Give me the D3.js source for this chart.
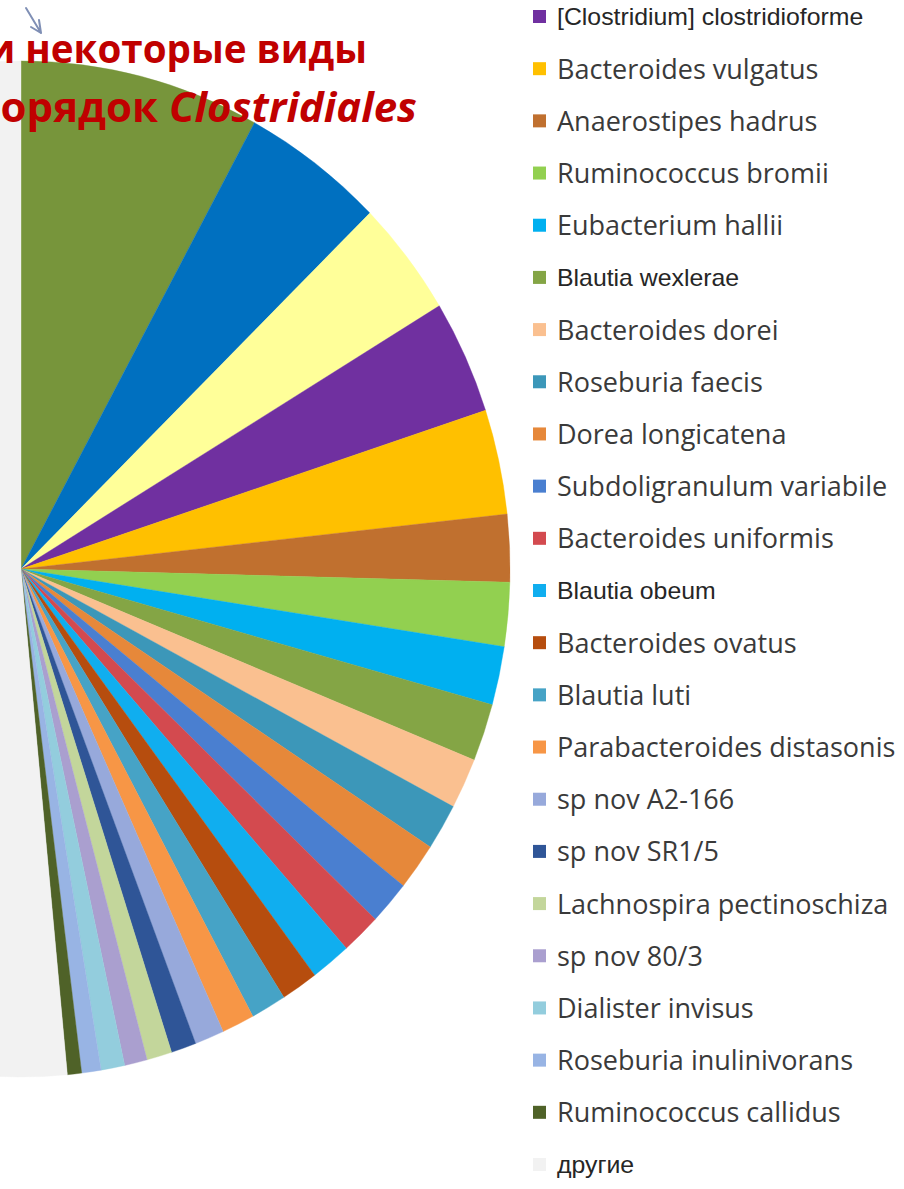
<!DOCTYPE html>
<html>
<head>
<meta charset="utf-8">
<script src="https://cdn.jsdelivr.net/npm/d3@7"></script>
<style>
  html, body { margin: 0; padding: 0; background: #ffffff; }
  svg { display: block; }
</style>
</head>
<body>
<svg id="chart" width="904" height="1189"></svg>
<script>
// ---- data (angles clockwise from 12 o'clock) ----
const categories = [
  "скрыто 1", "скрыто 2", "скрыто 3",
  "[Clostridium] clostridioforme", "Bacteroides vulgatus", "Anaerostipes hadrus",
  "Ruminococcus bromii", "Eubacterium hallii", "Blautia wexlerae",
  "Bacteroides dorei", "Roseburia faecis", "Dorea longicatena",
  "Subdoligranulum variabile", "Bacteroides uniformis", "Blautia obeum",
  "Bacteroides ovatus", "Blautia luti", "Parabacteroides distasonis",
  "sp nov A2-166", "sp nov SR1/5", "Lachnospira pectinoschiza",
  "sp nov 80/3", "Dialister invisus", "Roseburia inulinivorans",
  "Ruminococcus callidus", "другие"
];
const values = [
  7.92, 4.72, 3.69,
  3.61, 3.33, 2.14,
  2.03, 1.86, 1.83,
  1.61, 1.47, 1.50,
  1.39, 1.31, 1.33,
  1.22, 1.17, 1.08,
  0.97, 0.83, 0.83,
  0.75, 0.78, 0.64,
  0.47, 51.50
];
const colors = [
  "#77953b", "#0070c0", "#ffff99",
  "#7030a0", "#ffc000", "#c0702f",
  "#92d050", "#00b0f0", "#84a545",
  "#fac090", "#3c97b9", "#e6883a",
  "#4a7fd0", "#d34a4f", "#10aeef",
  "#b64d0e", "#46a3c6", "#f79646",
  "#97a9db", "#2f5597", "#c3d69b",
  "#aa9fcf", "#93cddd", "#98b4e4",
  "#4f6228", "#f2f2f2"
];
const titleLine1 = "и некоторые виды";
const titleLine2a = "порядок ";
const titleLine2b = "Clostridiales";

// ---- drawing ----
const svg = d3.select("#chart");

const cx = 21, cy = 569, ry = 508, rx = 489;

const pie = d3.pie().sort(null).value(d => d.v).startAngle(0).endAngle(2 * Math.PI);
const data = categories.map((c, i) => ({ name: c, v: values[i], color: colors[i] }));
const arcs = pie(data);
const arc = d3.arc().innerRadius(0).outerRadius(ry);

const g = svg.append("g")
  .attr("transform", `translate(${cx},${cy}) scale(${rx / ry},1)`);
g.selectAll("path.slice")
  .data(arcs)
  .join("path")
  .attr("class", "slice")
  .attr("d", arc)
  .attr("fill", d => d.data.color)
  .attr("stroke", d => d.data.color)
  .attr("stroke-width", 0.4);

// ---- legend ----
const narrowLabels = new Set(["[Clostridium] clostridioforme", "Blautia wexlerae", "Blautia obeum", "другие"]);
const legY = d3.scaleLinear().domain([3, 25]).range([17, 1165]);
const legendData = data.map((d, i) => ({ ...d, i })).filter(d => legY(d.i) > 0);
const leg = svg.append("g");
const items = leg.selectAll("g.item")
  .data(legendData)
  .join("g")
  .attr("class", "item")
  .attr("transform", d => `translate(0,${legY(d.i)})`);
items.append("rect")
  .attr("x", 533).attr("y", -7)
  .attr("width", 13).attr("height", 13)
  .attr("fill", d => d.color);
items.append("text")
  .attr("transform", d => narrowLabels.has(d.name) ? "translate(557,0) scale(1.08,1)" : "translate(557,0)")
  .attr("x", 0)
  .attr("y", 0)
  .attr("dy", "0.35em")
  .attr("font-family", d => narrowLabels.has(d.name) ? "'Liberation Sans', Arial, sans-serif" : "'Open Sans', 'Noto Sans', sans-serif")
  .attr("font-size", d => narrowLabels.has(d.name) ? 23 : 27)
  .attr("fill", d => narrowLabels.has(d.name) ? "#262626" : "#3a3a3a")
  .text(d => d.name);

// ---- title fragment (cropped at the left edge, as in the source slide) ----
const title = svg.append("g")
  .attr("font-family", "'Open Sans', 'Noto Sans', sans-serif")
  .attr("font-weight", "bold")
  .attr("fill", "#c00000");
title.append("text")
  .attr("x", 367).attr("y", 63)
  .attr("font-size", 38.6)
  .attr("text-anchor", "end")
  .text(titleLine1);
const t2 = title.append("text")
  .attr("x", 417).attr("y", 122)
  .attr("font-size", 42)
  .attr("text-anchor", "end");
t2.append("tspan").text(titleLine2a);
t2.append("tspan").attr("font-style", "italic").text(titleLine2b);

// small pointer arrow near the top-left
svg.append("path")
  .attr("d", "M26,8 L41,33 M41,33 L39,20 M41,33 L31,27")
  .attr("fill", "none")
  .attr("stroke", "#7f8fb5")
  .attr("stroke-width", 2)
  .attr("stroke-linecap", "round");
</script>
</body>
</html>
